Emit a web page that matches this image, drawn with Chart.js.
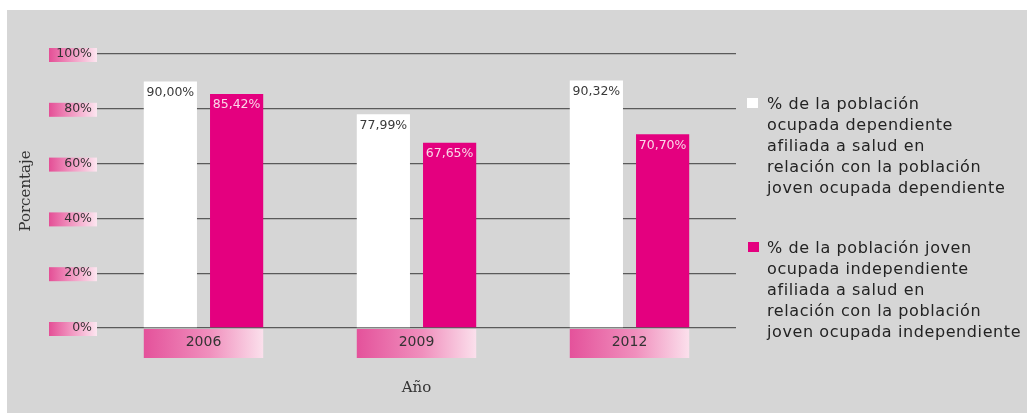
<!DOCTYPE html>
<html><head><meta charset="utf-8">
<script src="https://cdn.jsdelivr.net/npm/chart.js@4.4.1/dist/chart.umd.min.js"></script>
<style>
html,body{margin:0;padding:0;background:#fff;}
#wrap{position:relative;width:1027px;height:413px;overflow:hidden;}
#c{position:absolute;left:0;top:0;}
.leg{position:absolute;font-family:"DejaVu Sans",sans-serif;font-size:16px;letter-spacing:0.6px;line-height:21px;color:#232323;white-space:nowrap;}
.sq{position:absolute;width:11px;height:10px;}
</style></head><body>
<div id="wrap">
<canvas id="c" width="1027" height="413"></canvas>
<div class="sq" style="left:747px;top:98px;background:#ffffff"></div>
<div class="leg" style="left:767px;top:93px">% de la población<br>ocupada dependiente<br>afiliada a salud en<br>relación con la población<br>joven ocupada dependiente</div>
<div class="sq" style="left:748px;top:242px;background:#e4007f"></div>
<div class="leg" style="left:767px;top:237px">% de la población joven<br>ocupada independiente<br>afiliada a salud en<br>relación con la población<br>joven ocupada independiente</div>
</div>
<script>
const categories = ['2006', '2009', '2012'];
const dependiente = [90.00, 77.99, 90.32];
const independiente = [85.42, 67.65, 70.70];
const seriesNames = [
  '% de la población ocupada dependiente afiliada a salud en relación con la población joven ocupada dependiente',
  '% de la población joven ocupada independiente afiliada a salud en relación con la población joven ocupada independiente'
];
const yTitle = 'Porcentaje';
const xTitle = 'Año';

const fmt = v => v.toFixed(2).replace('.', ',') + '%';

const deco = {
  id: 'deco',
  beforeDraw(chart) {
    const ctx = chart.ctx;
    ctx.save();
    ctx.fillStyle = '#ffffff';
    ctx.fillRect(0, 0, chart.width, chart.height);
    ctx.fillStyle = '#d6d6d6';
    ctx.fillRect(7, 10, chart.width - 7, chart.height - 10);
    // y tick boxes
    const y = chart.scales.y;
    const g = ctx.createLinearGradient(49, 0, 97, 0);
    g.addColorStop(0, '#e44f96');
    g.addColorStop(0.5, '#f29cc4');
    g.addColorStop(1, '#fde6f0');
    ctx.fillStyle = g;
    y.ticks.forEach((t, i) => {
      const py = y.getPixelForTick(i);
      ctx.fillRect(49, py - 6, 48, 14);
    });
    // x category boxes
    const m0 = chart.getDatasetMeta(0), m1 = chart.getDatasetMeta(1);
    const bottom = chart.chartArea.bottom;
    m0.data.forEach((b, i) => {
      const p0 = b.getProps(['x', 'width'], true);
      const p1 = m1.data[i].getProps(['x', 'width'], true);
      const l = p0.x - p0.width / 2, r = p1.x + p1.width / 2;
      const gg = ctx.createLinearGradient(l, 0, r, 0);
      gg.addColorStop(0, '#e4529b');
      gg.addColorStop(0.55, '#f08fbd');
      gg.addColorStop(1, '#fbe0ec');
      ctx.fillStyle = gg;
      ctx.fillRect(l, bottom + 1, r - l, 29);
    });
    ctx.restore();
  },
  afterDatasetsDraw(chart) {
    const ctx = chart.ctx;
    ctx.save();
    ctx.font = '12.5px "DejaVu Sans", sans-serif';
    ctx.textAlign = 'center';
    ctx.textBaseline = 'middle';
    const colors = ['#3a3a3a', '#fbd6e8'];
    chart.data.datasets.forEach((ds, di) => {
      const meta = chart.getDatasetMeta(di);
      meta.data.forEach((b, i) => {
        const p = b.getProps(['x', 'y'], true);
        ctx.fillStyle = colors[di];
        ctx.fillText(fmt(ds.data[i]), p.x, p.y + 11);
      });
    });
    ctx.restore();
  }
};

new Chart(document.getElementById('c'), {
  type: 'bar',
  data: {
    labels: categories,
    datasets: [
      { label: seriesNames[0], data: dependiente, backgroundColor: '#ffffff', borderWidth: 0,
        categoryPercentage: 0.622, barPercentage: 0.803 },
      { label: seriesNames[1], data: independiente, backgroundColor: '#e4007f', borderWidth: 0,
        categoryPercentage: 0.622, barPercentage: 0.803 }
    ]
  },
  options: {
    responsive: false,
    animation: false,
    layout: { padding: { left: 14, right: 291, top: 54, bottom: 0 } },
    plugins: { legend: { display: false }, tooltip: { enabled: false } },
    scales: {
      x: {
        grid: { display: false, drawTicks: false },
        border: { display: false },
        ticks: { color: '#333', font: { family: 'DejaVu Sans', size: 14 }, padding: 6 },
        title: { display: true, text: xTitle, color: '#333',
                 font: { family: 'DejaVu Serif', size: 15 }, padding: { top: 0, bottom: 16 } },
        afterFit: s => { s.height = 85; }
      },
      y: {
        min: 0, max: 100,
        grid: { color: '#5a5a5a', lineWidth: 1.3, drawTicks: false },
        border: { display: false },
        ticks: { stepSize: 20, color: '#333', font: { family: 'DejaVu Sans', size: 12.5 }, padding: 5,
                 callback: v => v + '%' },
        title: { display: true, text: yTitle, color: '#333',
                 font: { family: 'DejaVu Serif', size: 15 }, padding: { top: 3, bottom: 0 } },
        afterFit: s => { s.width = 83; }
      }
    }
  },
  plugins: [deco]
});
</script>
</body></html>
